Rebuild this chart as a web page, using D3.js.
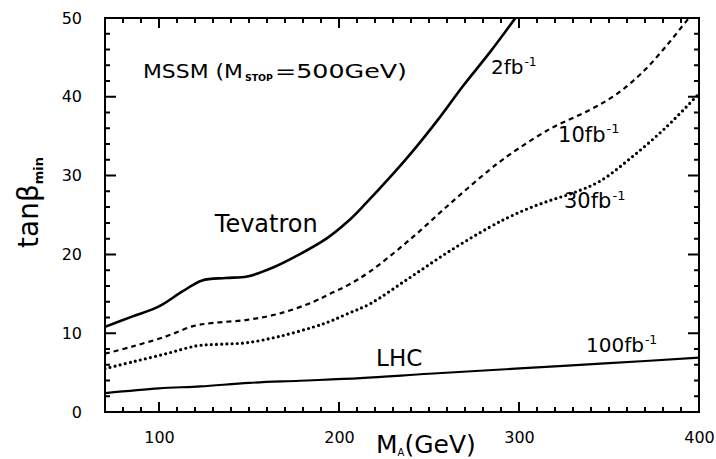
<!DOCTYPE html>
<html>
<head>
<meta charset="utf-8">
<script src="https://cdn.jsdelivr.net/npm/d3@7"></script>
<style>
 body { margin: 0; background: #fff; }
 svg text { font-family: "DejaVu Sans", sans-serif; fill: #000; }
 .curve { fill: none; stroke: #000; }
</style>
</head>
<body>
<div id="chart"></div>
<script>
// curves: M_A (GeV) and tan(beta)_min
var tevM   = [70, 85, 100, 113, 124, 137, 149, 163, 178, 193, 205, 215, 228, 241, 255, 269, 284, 298];
var tevTan = [10.8, 12.1, 13.4, 15.3, 16.7, 17.0, 17.2, 18.3, 20.0, 22.0, 24.2, 26.5, 29.7, 33.1, 37.1, 41.4, 45.7, 50];

var dash10M   = [70, 85, 104, 119, 130, 149, 167, 186, 195, 205, 217, 239, 262, 284, 295, 317, 339, 354, 369, 382, 393, 396];
var dash10Tan = [7.4, 8.3, 9.6, 10.9, 11.3, 11.7, 12.5, 14.0, 15.0, 16.1, 17.8, 21.8, 26.5, 30.8, 32.7, 35.9, 38.3, 40.3, 43.2, 46.5, 49.6, 50.4];

var dot30M   = [70, 86, 104, 121, 134, 149, 167, 186, 195, 205, 217, 239, 262, 284, 295, 306, 318, 330, 345, 363, 382, 400];
var dot30Tan = [5.5, 6.4, 7.4, 8.4, 8.6, 8.8, 9.6, 10.8, 11.5, 12.5, 13.7, 17.0, 20.5, 23.5, 24.8, 25.9, 26.9, 27.8, 29.3, 32.4, 36.2, 40.4];

var lhcM   = [70, 100, 123, 150, 178, 212, 250, 298, 350, 400];
var lhcTan = [2.4, 3.0, 3.25, 3.7, 3.97, 4.3, 4.85, 5.5, 6.2, 6.9];

// tick values
var xMajor = [100, 200, 300, 400];
var yMajor = [0, 10, 20, 30, 40, 50];

var W = 716, H = 459;
var margin = { top: 18, right: 17, bottom: 47, left: 105 };

var x = d3.scaleLinear().domain([70, 400]).range([margin.left, W - margin.right]);
var y = d3.scaleLinear().domain([0, 50]).range([H - margin.bottom, margin.top]);

var svg = d3.select("#chart").append("svg")
 .attr("width", W)
 .attr("height", H);

var xMinor = d3.range(70, 401, 10).filter(function (d) { return d % 100 !== 0; });
var yMinor = d3.range(0, 51, 2).filter(function (d) { return d % 10 !== 0; });

// tick labels from the d3 axes
var xAxis = svg.append("g")
 .attr("transform", "translate(0," + y(0) + ")")
 .call(d3.axisBottom(x).tickValues(xMajor).tickSize(0).tickPadding(20));
xAxis.select(".domain").remove();
xAxis.selectAll("text").style("font-size", "16px");

var yAxis = svg.append("g")
 .attr("transform", "translate(" + x(70) + ",0)")
 .call(d3.axisLeft(y).tickValues(yMajor).tickSize(0).tickPadding(23));
yAxis.select(".domain").remove();
yAxis.selectAll("text").style("font-size", "16px");

// frame plus inward tick marks on all four sides, as one path
var p = d3.path();
p.rect(x(70), y(50), x(400) - x(70), y(0) - y(50));
function xTicks(vals, len) {
 vals.forEach(function (d) {
   p.moveTo(x(d), y(0)); p.lineTo(x(d), y(0) - len);
   p.moveTo(x(d), y(50)); p.lineTo(x(d), y(50) + len);
 });
}
function yTicks(vals, len) {
 vals.forEach(function (d) {
   p.moveTo(x(70), y(d)); p.lineTo(x(70) + len, y(d));
   p.moveTo(x(400), y(d)); p.lineTo(x(400) - len, y(d));
 });
}
xTicks(xMajor, 10);
xTicks(xMinor, 5);
yTicks(yMajor, 11);
yTicks(yMinor, 5);

svg.append("path")
 .attr("d", p.toString())
 .attr("fill", "none")
 .attr("stroke", "#000")
 .attr("stroke-width", 2);

// curves
svg.append("clipPath").attr("id", "plot")
 .append("rect")
 .attr("x", x(70)).attr("y", y(50))
 .attr("width", x(400) - x(70)).attr("height", y(0) - y(50));

var line = d3.line()
 .x(function (d) { return x(d[0]); })
 .y(function (d) { return y(d[1]); })
 .curve(d3.curveCatmullRom.alpha(0.5));

function pairs(a, b) { return a.map(function (v, i) { return [v, b[i]]; }); }

var plot = svg.append("g").attr("clip-path", "url(#plot)");

plot.append("path").datum(pairs(tevM, tevTan))
 .attr("class", "curve").attr("stroke-width", 2.6).attr("d", line);

plot.append("path").datum(pairs(dash10M, dash10Tan))
 .attr("class", "curve").attr("stroke-width", 2.2)
 .attr("stroke-dasharray", "5,4").attr("d", line);

plot.append("path").datum(pairs(dot30M, dot30Tan))
 .attr("class", "curve").attr("stroke-width", 3.2)
 .attr("stroke-linecap", "round")
 .attr("stroke-dasharray", "0,5.2").attr("d", line);

plot.append("path").datum(pairs(lhcM, lhcTan))
 .attr("class", "curve").attr("stroke-width", 2.1).attr("d", line);

// text labels
function lumi(m, t, num, size) {
 var tx = svg.append("text")
   .attr("x", x(m)).attr("y", y(t))
   .style("font-size", size + "px");
 tx.append("tspan").text(num + "fb");
 tx.append("tspan").attr("dx", 1).attr("dy", -size * 0.4).style("font-size", (size * 0.62) + "px").text("-1");
}
lumi(284.4, 42.9, "2", 20);
lumi(321.7, 34.3, "10", 21);
lumi(325, 25.9, "30", 21);
lumi(337.2, 7.6, "100", 20);

svg.append("text").attr("x", x(131)).attr("y", y(22.8))
 .style("font-size", "24px").text("Tevatron");
svg.append("text").attr("x", x(220.6)).attr("y", y(5.84))
 .style("font-size", "23px").text("LHC");

// MSSM label, stretched to the wide face of the original
var mx = x(91.1), my = y(42.4);
svg.append("text").attr("x", mx).attr("y", my).style("font-size", "20px")
 .attr("textLength", 100).attr("lengthAdjust", "spacingAndGlyphs").text("MSSM (M");
svg.append("text").attr("x", mx + 102).attr("y", my + 3).style("font-size", "9px").style("font-weight", "bold")
 .attr("textLength", 28).attr("lengthAdjust", "spacingAndGlyphs").text("STOP");
svg.append("text").attr("x", mx + 132).attr("y", my).style("font-size", "20px")
 .attr("textLength", 132).attr("lengthAdjust", "spacingAndGlyphs").text("=500GeV)");

// axis titles
var xt = svg.append("text").attr("x", 376).attr("y", 453).style("font-size", "25px");
xt.append("tspan").text("M");
xt.append("tspan").attr("dy", 3).style("font-size", "10px").text("A");
xt.append("tspan").attr("dy", -3).text("(GeV)");

var yt = svg.append("text")
 .attr("transform", "translate(38,248) rotate(-90)")
 .style("font-size", "28px");
yt.append("tspan").text("tanβ");
yt.append("tspan").attr("dy", 5).style("font-size", "13px").style("font-weight", "bold").text("min");
</script>
</body>
</html>
